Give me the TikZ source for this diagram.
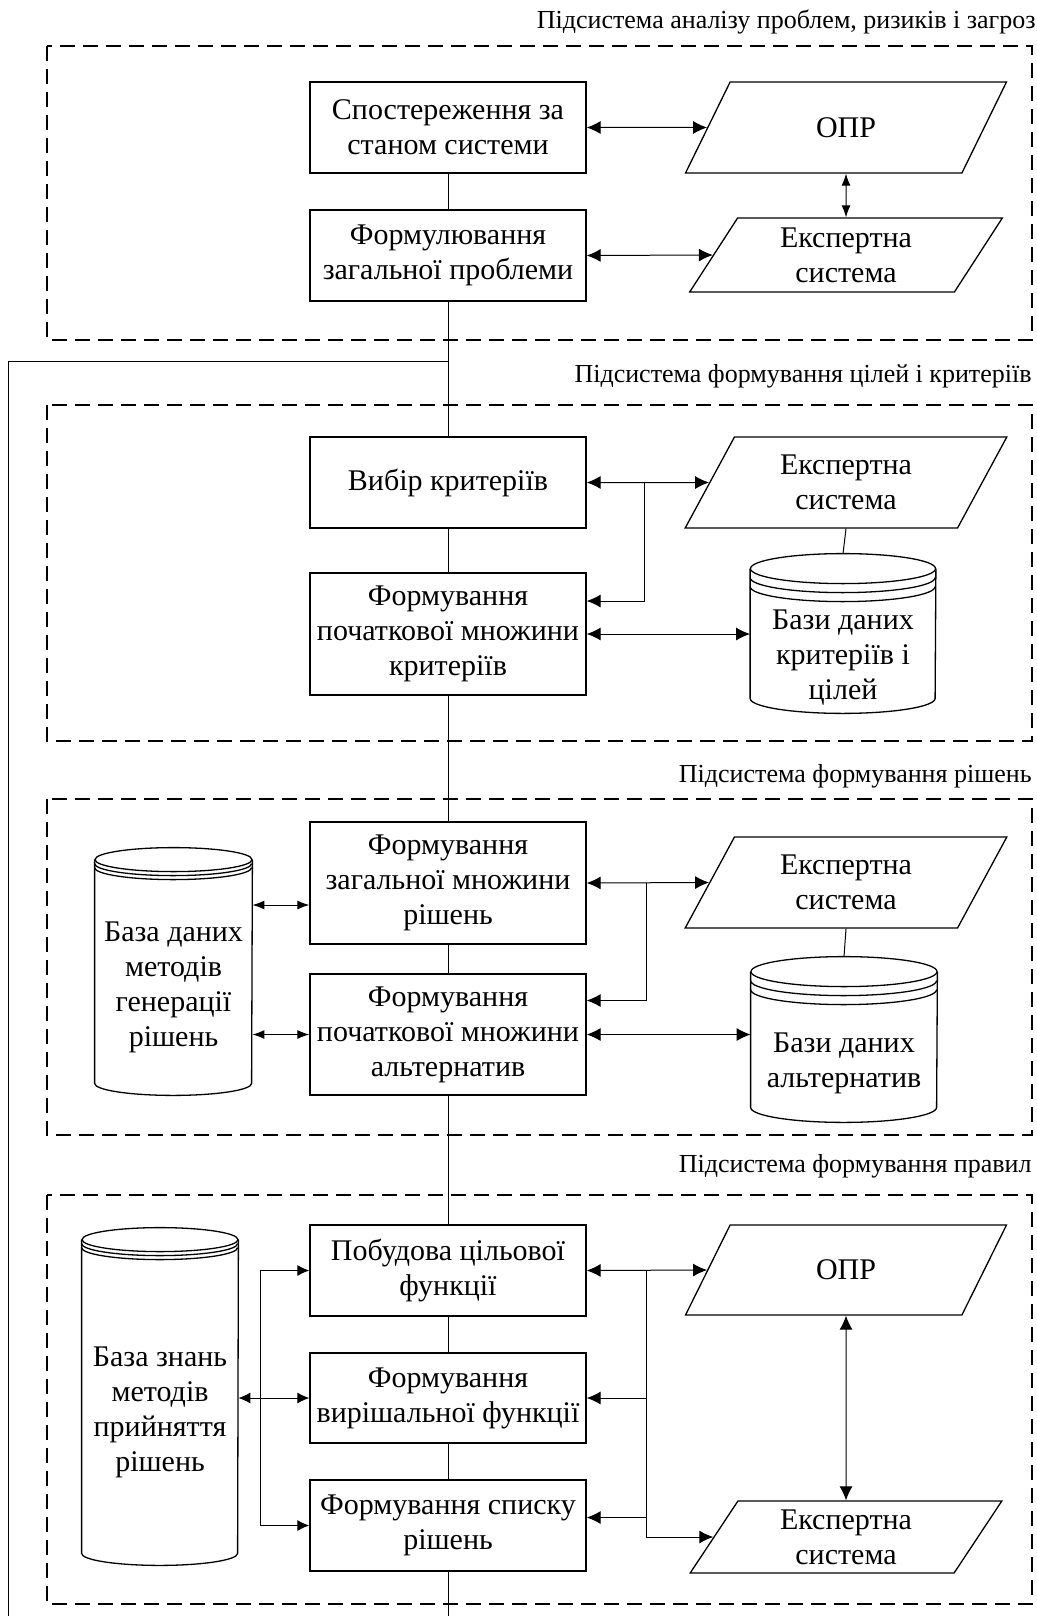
\documentclass[tikz,border=0pt]{standalone}
\usepackage{fontspec}
\setmainfont{Liberation Serif}
\usetikzlibrary{arrows.meta,shapes.geometric}
\newcommand{\boxfont}{\fontsize{15}{17.5}\selectfont}
\newcommand{\zonefont}{\fontsize{13}{15}\selectfont}
% database cylinder drawn round a named node: #1 node, #2 half width, #3 rim radius, #4 ring gap
\newcommand{\dbcyl}[4]{%
    \draw[line width=0.65pt] ([yshift=#3+2*#4]#1.north west) -- ([yshift=#3]#1.south west)
        arc[start angle=180, end angle=360, x radius=#2, y radius=#3]
        -- ([yshift=#3+2*#4]#1.north east);
    \draw[line width=0.65pt] ([yshift=#3+2*#4]#1.north) ellipse[x radius=#2, y radius=#3];
    \draw[line width=0.65pt] ([yshift=#3+#4]#1.north west)
        arc[start angle=180, end angle=360, x radius=#2, y radius=#3];
    \draw[line width=0.65pt] ([yshift=#3]#1.north west)
        arc[start angle=180, end angle=360, x radius=#2, y radius=#3];
}
\tikzset{
    blok/.style={draw, line width=0.65pt, minimum width=138pt, align=center,
        inner sep=1pt, font=\boxfont},
    pgram/.style={draw, line width=0.65pt, trapezium, trapezium left angle=63,
        trapezium right angle=117, trapezium stretches=true, align=center,
        inner sep=1pt, font=\boxfont},
    bd/.style={minimum width=#1, align=center, inner sep=0pt, font=\boxfont},
    zone/.style={draw, line width=0.85pt, dash pattern=on 7.5pt off 4pt},
    zonelabel/.style={anchor=east, inner sep=0pt, font=\zonefont},
    conn/.style={line width=0.5pt},
    arrbig/.style={conn, -{Latex[length=7pt, width=6.5pt]}},
    dblbig/.style={conn, {Latex[length=7pt, width=6.5pt]}-{Latex[length=7pt, width=6.5pt]}},
    arrmid/.style={conn, -{Latex[length=6pt, width=5.5pt]}},
    dblmid/.style={conn, {Latex[length=6pt, width=5.5pt]}-{Latex[length=6pt, width=5.5pt]}},
    dblsmall/.style={conn, {Latex[length=6pt, width=4.5pt]}-{Latex[length=6pt, width=4.5pt]}}
}

\begin{document}
\begin{tikzpicture}[x=0.5pt, y=-0.5pt]
    \useasboundingbox (0,0) rectangle (1037,1616);

    % Subsystem zones
    \draw[zone] (47,46) rectangle (1032,340);
    \draw[zone] (47,405) rectangle (1032,741);
    \draw[zone] (47,799) rectangle (1032,1135);
    \draw[zone] (47,1195) rectangle (1032,1604);
    \node[zonelabel] (zlab1) at (1036,22) {Підсистема аналізу проблем, ризиків і загроз};
    \node[zonelabel] (zlab2) at (1032,376) {Підсистема формування цілей і критеріїв};
    \node[zonelabel] (zlab3) at (1032,776) {Підсистема формування рішень};
    \node[zonelabel] (zlab4) at (1032,1166) {Підсистема формування правил};

    % Problems
    \node[blok, minimum height=45.5pt] (spost) at (448,127.5) {Спостереження за\\станом системи};
    \node[blok, minimum height=45.5pt] (formprob) at (448,255.5) {Формулювання\\загальної проблеми};
    \node[pgram, minimum width=161pt, minimum height=45.5pt] (opr1) at (846,127.5) {ОПР};
    \node[pgram, minimum width=156.5pt, minimum height=37pt] (es1) at (846,255) {Експертна\\система};
    \draw[dblbig] (spost.east) -- (opr1.west);
    \draw[dblbig] (formprob.east) -- (es1.west);
    \draw[dblsmall] (opr1.south) -- (es1.north);
    \draw[conn] (spost) -- (formprob);

    % Goals and criteria
    \node[blok, minimum height=45.5pt] (vybir) at (448,482.5) {Вибір критеріїв};
    \node[blok, minimum height=61pt] (pochkryt) at (448,634) {Формування\\початкової множини\\критеріїв};
    \node[pgram, minimum width=161pt, minimum height=45.5pt] (es2) at (846,482.5) {Експертна\\система};
    \node[bd=92.5pt, minimum height=55.5pt] (bdkryt) at (843,657.5) {Бази даних\\критеріїв і\\цілей};
    \dbcyl{bdkryt}{46.25pt}{7.5pt}{4.5pt}
    \coordinate (br2) at (644,482.5);
    \draw[dblbig] (vybir.east) -- (es2.west);
    \draw[arrbig] (br2) |- ([yshift=16.5pt]pochkryt.east);
    \draw[dblbig] (pochkryt.east) -- (pochkryt.east -| bdkryt.west);
    \draw[conn] (es2.south) -- ([yshift=24pt]bdkryt.north);
    \draw[conn] (vybir) -- (pochkryt);

    % Decisions
    \node[blok, minimum height=61pt] (zahrish) at (448,883) {Формування\\загальної множини\\рішень};
    \node[blok, minimum height=60.5pt] (pochalt) at (448,1034.5) {Формування\\початкової множини\\альтернатив};
    \node[pgram, minimum width=161pt, minimum height=45.5pt] (es3) at (846,882.5) {Експертна\\система};
    \node[bd=93pt, minimum height=58.5pt] (bdalt) at (844,1063.5) {Бази даних\\альтернатив};
    \dbcyl{bdalt}{46.5pt}{7.5pt}{4.5pt}
    \node[bd=78.5pt, minimum height=107.5pt] (bdgen) at (173.5,987.5) {База даних\\методів\\генерації\\рішень};
    \dbcyl{bdgen}{39.25pt}{6pt}{2pt}
    \coordinate (gen1) at ([yshift=-11pt]zahrish.west);
    \draw[dblsmall] (gen1 -| bdgen.east) -- (gen1);
    \draw[dblsmall] (pochalt.west -| bdgen.east) -- (pochalt.west);
    \coordinate (br3) at (646,883);
    \draw[dblbig] (zahrish.east) -- (es3.west);
    \draw[arrbig] (br3) |- ([yshift=17pt]pochalt.east);
    \draw[dblbig] (pochalt.east) -- (pochalt.east -| bdalt.west);
    \draw[conn] (es3.south) -- ([yshift=24pt]bdalt.north);
    \draw[conn] (zahrish) -- (pochalt);

    % Rules
    \node[blok, minimum height=45.5pt] (pobud) at (448,1270.5) {Побудова цільової\\функції};
    \node[blok, minimum height=45pt] (vyrish) at (448,1398) {Формування\\вирішальної функції};
    \node[blok, minimum height=45.5pt] (spysok) at (448,1525.5) {Формування списку\\рішень};
    \node[pgram, minimum width=161pt, minimum height=45pt] (opr4) at (846,1270) {ОПР};
    \node[pgram, minimum width=156pt, minimum height=36pt] (es4) at (846,1537) {Експертна\\система};
    \node[bd=78pt, minimum height=152.5pt] (bdznan) at (160,1412.5) {База знань\\методів\\прийняття\\рішень};
    \dbcyl{bdznan}{39pt}{6pt}{2pt}
    \coordinate (lv) at (260,1398);
    \draw[arrmid] (lv) |- (pobud.west);
    \draw[arrmid] (lv) |- (spysok.west);
    \draw[dblmid] (vyrish.west -| bdznan.east) -- (vyrish.west);
    \coordinate (br4) at (646,1270.5);
    \draw[dblbig] (pobud.east) -- (opr4.west);
    \draw[arrbig] (br4) |- (vyrish.east);
    \draw[arrbig] (br4) |- ([yshift=4pt]spysok.east);
    \draw[arrbig] (br4) |- (es4.west);
    \draw[dblbig] (opr4.south) -- (es4.north);
    \draw[conn] (pobud) -- (vyrish);
    \draw[conn] (vyrish) -- (spysok);

    % Main line and feedback
    \coordinate (fbtop) at (448,361);
    \coordinate (fbend) at (8,1616);
    \coordinate (niz) at (448,1616);
    \draw[conn] (formprob.south) -- (vybir.north);
    \draw[conn] (pochkryt.south) -- (zahrish.north);
    \draw[conn] (pochalt.south) -- (pobud.north);
    \draw[conn] (spysok.south) -- (niz);
    \draw[conn] (fbtop) -| (fbend);
\end{tikzpicture}
\end{document}
